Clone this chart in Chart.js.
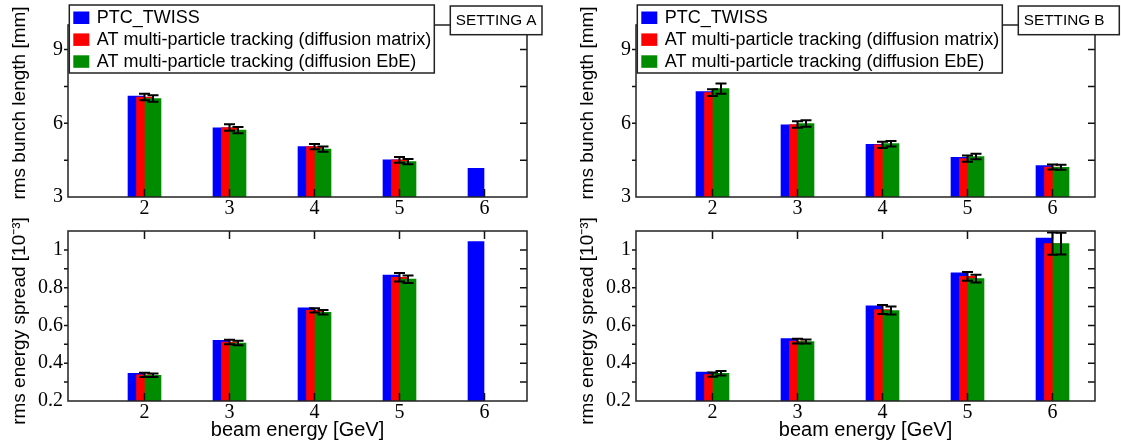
<!DOCTYPE html>
<html>
<head>
<meta charset="utf-8">
<title>Bunch length and energy spread</title>
<script src="https://cdn.jsdelivr.net/npm/chart.js@4.4.1/dist/chart.umd.min.js"></script>
<style>
  body { margin: 0; background: #fff; }
  #page { position: relative; width: 1121px; height: 442px; }
  #page canvas { position: absolute; left: 0; top: 0; }
</style>
</head>
<body>
<div id="page">
  <canvas id="bunch_a" width="1121" height="442"></canvas>
  <canvas id="bunch_b" width="1121" height="442"></canvas>
  <canvas id="spread_a" width="1121" height="442"></canvas>
  <canvas id="spread_b" width="1121" height="442"></canvas>
</div>
<script>
// beam energies [GeV]
const energies = [2, 3, 4, 5, 6];
const energyTicks = [2, 3, 4, 5, 6];
const bunchTicks = [3, 6, 9];
const spreadTicks = [0.2, 0.4, 0.6, 0.8, 1];

const seriesLabels = [
  'PTC_TWISS',
  'AT multi-particle tracking (diffusion matrix)',
  'AT multi-particle tracking (diffusion EbE)'
];

// setting A, rms bunch length [mm]
const ptcBunchA = [7.11, 5.82, 5.05, 4.51, 4.17];
const matBunchA = [7.07, 5.83, 5.05, 4.51, null];
const matBunchErrA = [0.13, 0.13, 0.11, 0.12, null];
const ebeBunchA = [7.01, 5.72, 4.95, 4.44, null];
const ebeBunchErrA = [0.13, 0.13, 0.11, 0.11, null];

// setting B, rms bunch length [mm]
const ptcBunchB = [7.29, 5.94, 5.14, 4.61, 4.28];
const matBunchB = [7.25, 5.95, 5.12, 4.56, 4.22];
const matBunchErrB = [0.14, 0.13, 0.13, 0.13, 0.10];
const ebeBunchB = [7.41, 5.99, 5.17, 4.65, 4.21];
const ebeBunchErrB = [0.21, 0.13, 0.11, 0.11, 0.10];

// setting A, rms energy spread [1e-3]
const ptcSpreadA = [0.346, 0.521, 0.693, 0.867, 1.044];
const matSpreadA = [0.338, 0.512, 0.680, 0.855, null];
const matSpreadErrA = [0.011, 0.012, 0.011, 0.022, null];
const ebeSpreadA = [0.336, 0.507, 0.670, 0.845, null];
const ebeSpreadErrA = [0.009, 0.012, 0.012, 0.020, null];

// setting B, rms energy spread [1e-3]
const ptcSpreadB = [0.353, 0.530, 0.704, 0.879, 1.063];
const matSpreadB = [0.340, 0.517, 0.684, 0.860, 1.033];
const matSpreadErrB = [0.011, 0.013, 0.024, 0.023, 0.059];
const ebeSpreadB = [0.347, 0.515, 0.679, 0.848, 1.033];
const ebeSpreadErrB = [0.012, 0.010, 0.021, 0.021, 0.058];

const seriesColors = ['#0000ff', '#ff0000', '#008b00'];
const seriesShift = [-0.1, 0, 0.1];   // bars overlap, shifted around the energy
const axisW = 60;
const serif = '"Liberation Serif", "Times New Roman", serif';
const sans = '"Liberation Sans", Arial, sans-serif';

// frame, tick marks, error bars, axis title, legend and setting label
const decor = {
  id: 'decor',
  afterDatasetsDraw(chart, args, opts) {
    const ctx = chart.ctx;
    const {left, right, top, bottom} = chart.chartArea;
    const xs = chart.scales.x, ys = chart.scales.y;
    ctx.save();

    ctx.strokeStyle = '#111';
    ctx.lineWidth = 1.5;
    ctx.beginPath();
    energyTicks.forEach(v => {
      const px = xs.getPixelForValue(v);
      ctx.moveTo(px, bottom); ctx.lineTo(px, bottom - 8);
      ctx.moveTo(px, top); ctx.lineTo(px, top + 8);
    });
    const n = Math.round((ys.max - ys.min) / opts.minorStep);
    for (let i = 1; i < n; i++) {
      const py = ys.getPixelForValue(ys.min + i * opts.minorStep);
      ctx.moveTo(right, py); ctx.lineTo(right - 7, py);
      ctx.moveTo(left, py); ctx.lineTo(left - 4, py);
    }
    ctx.stroke();

    // error bars on the tracking results
    ctx.strokeStyle = '#000';
    ctx.lineWidth = 2;
    chart.data.datasets.forEach((ds, i) => {
      if (!ds.errors) return;
      const meta = chart.getDatasetMeta(i);
      ds.data.forEach((p, j) => {
        const e = ds.errors[j];
        if (p.y == null || e == null) return;
        const x = meta.data[j].x;
        const y1 = ys.getPixelForValue(p.y + e);
        const y2 = ys.getPixelForValue(p.y - e);
        ctx.beginPath();
        ctx.moveTo(x, y1); ctx.lineTo(x, y2);
        ctx.moveTo(x - 5.5, y1); ctx.lineTo(x + 5.5, y1);
        ctx.moveTo(x - 5.5, y2); ctx.lineTo(x + 5.5, y2);
        ctx.stroke();
      });
    });

    ctx.strokeStyle = '#222';
    ctx.lineWidth = 1.5;
    ctx.strokeRect(left, top, right - left, bottom - top);

    // y title, rotated, sitting a little off the frame centre like the original layout
    ctx.fillStyle = '#000';
    ctx.font = '19px ' + sans;
    ctx.textAlign = 'center';
    ctx.textBaseline = 'middle';
    ctx.translate(left - 48, (top + bottom) / 2 + opts.titleShift);
    ctx.rotate(-Math.PI / 2);
    ctx.fillText(opts.yTitle, 0, 0);
    ctx.setTransform(1, 0, 0, 1, 0, 0);

    if (opts.legend) {
      const lx = left + 1.3, ly = 5, lw = 365, lh = 68;
      ctx.fillStyle = '#fff';
      ctx.fillRect(lx, ly, lw, lh);
      ctx.strokeRect(lx, ly, lw, lh);
      ctx.font = '18px ' + sans;
      ctx.textBaseline = 'middle';
      ctx.textAlign = 'left';
      chart.data.datasets.forEach((ds, i) => {
        const cy = ly + 12.5 + i * 21.9;
        ctx.fillStyle = ds.backgroundColor;
        ctx.fillRect(lx + 4, cy - 6, 16, 12.5);
        ctx.fillStyle = '#000';
        ctx.fillText(ds.label, lx + 27.5, cy + 0.5);
      });
    }

    if (opts.setting) {
      const bx = right - 76.7, by = 6, bh = 28.7;
      ctx.fillStyle = '#fff';
      ctx.fillRect(bx, by, opts.setting.width, bh);
      ctx.strokeRect(bx, by, opts.setting.width, bh);
      ctx.fillStyle = '#000';
      ctx.font = '15.3px ' + sans;
      ctx.textBaseline = 'middle';
      ctx.textAlign = 'left';
      ctx.fillText(opts.setting.text, bx + 5.5, by + bh / 2 + 0.5);
    }
    ctx.restore();
  }
};

function makeChart(id, panel) {
  const datasets = panel.series.map((s, k) => ({
    label: seriesLabels[k],
    data: energies.map((e, j) => ({x: e + seriesShift[k], y: s.values[j]})),
    errors: s.errors,
    backgroundColor: seriesColors[k],
    barThickness: 16,
    grouped: false,
    order: 2 - k
  }));

  return new Chart(document.getElementById(id), {
    type: 'bar',
    data: {datasets: datasets},
    options: {
      responsive: false,
      animation: false,
      events: [],
      layout: {
        padding: {
          left: panel.frame.l - axisW,
          right: 1121 - panel.frame.r,
          top: panel.frame.t,
          bottom: 442 - panel.frame.b - panel.xH
        }
      },
      plugins: {
        legend: {display: false},
        tooltip: {enabled: false},
        decor: {
          legend: panel.legend,
          setting: panel.setting,
          minorStep: panel.minorStep,
          yTitle: panel.yTitle,
          titleShift: panel.titleShift
        }
      },
      scales: {
        x: {
          type: 'linear',
          min: 1.1,
          max: 6.5,
          offset: false,
          grid: {display: false, drawTicks: false},
          border: {display: false},
          afterBuildTicks: s => { s.ticks = energyTicks.map(v => ({value: v})); },
          afterFit: s => { s.height = panel.xH; },
          ticks: {
            font: {family: serif, size: 20},
            color: '#000',
            padding: 0,
            maxRotation: 0,
            autoSkip: false,
            callback: v => String(v)
          },
          title: {
            display: !!panel.xTitle,
            text: panel.xTitle || '',
            color: '#000',
            font: {family: sans, size: 20},
            padding: {top: 0, bottom: 0}
          }
        },
        y: {
          type: 'linear',
          min: panel.yMin,
          max: panel.yMax,
          beginAtZero: false,
          grid: {display: false, drawTicks: false},
          border: {display: false},
          afterBuildTicks: s => { s.ticks = panel.yTicks.map(v => ({value: v})); },
          afterFit: s => { s.width = axisW; },
          ticks: {
            font: {family: serif, size: 20},
            color: '#000',
            padding: 5,
            callback: v => String(v)
          }
        }
      }
    },
    plugins: [decor]
  });
}

const topFrame = {t: 25, b: 197};
const lowFrame = {t: 231, b: 401};

makeChart('bunch_a', {
  frame: {l: 68, r: 527, t: topFrame.t, b: topFrame.b},
  xH: 25,
  yMin: 3, yMax: 10, yTicks: bunchTicks, minorStep: 1.5,
  yTitle: 'rms bunch length [mm]', titleShift: -8,
  legend: true,
  setting: {text: 'SETTING A', width: 91.7},
  series: [
    {values: ptcBunchA},
    {values: matBunchA, errors: matBunchErrA},
    {values: ebeBunchA, errors: ebeBunchErrA}
  ]
});

makeChart('bunch_b', {
  frame: {l: 636, r: 1095, t: topFrame.t, b: topFrame.b},
  xH: 25,
  yMin: 3, yMax: 10, yTicks: bunchTicks, minorStep: 1.5,
  yTitle: 'rms bunch length [mm]', titleShift: -8,
  legend: true,
  setting: {text: 'SETTING B', width: 101},
  series: [
    {values: ptcBunchB},
    {values: matBunchB, errors: matBunchErrB},
    {values: ebeBunchB, errors: ebeBunchErrB}
  ]
});

makeChart('spread_a', {
  frame: {l: 68, r: 527, t: lowFrame.t, b: lowFrame.b},
  xH: 41,
  xTitle: 'beam energy [GeV]',
  yMin: 0.2, yMax: 1.1, yTicks: spreadTicks, minorStep: 0.1,
  yTitle: 'rms energy spread [10⁻³]', titleShift: 5,
  series: [
    {values: ptcSpreadA},
    {values: matSpreadA, errors: matSpreadErrA},
    {values: ebeSpreadA, errors: ebeSpreadErrA}
  ]
});

makeChart('spread_b', {
  frame: {l: 636, r: 1095, t: lowFrame.t, b: lowFrame.b},
  xH: 41,
  xTitle: 'beam energy [GeV]',
  yMin: 0.2, yMax: 1.1, yTicks: spreadTicks, minorStep: 0.1,
  yTitle: 'rms energy spread [10⁻³]', titleShift: 5,
  series: [
    {values: ptcSpreadB},
    {values: matSpreadB, errors: matSpreadErrB},
    {values: ebeSpreadB, errors: ebeSpreadErrB}
  ]
});
</script>
</body>
</html>
